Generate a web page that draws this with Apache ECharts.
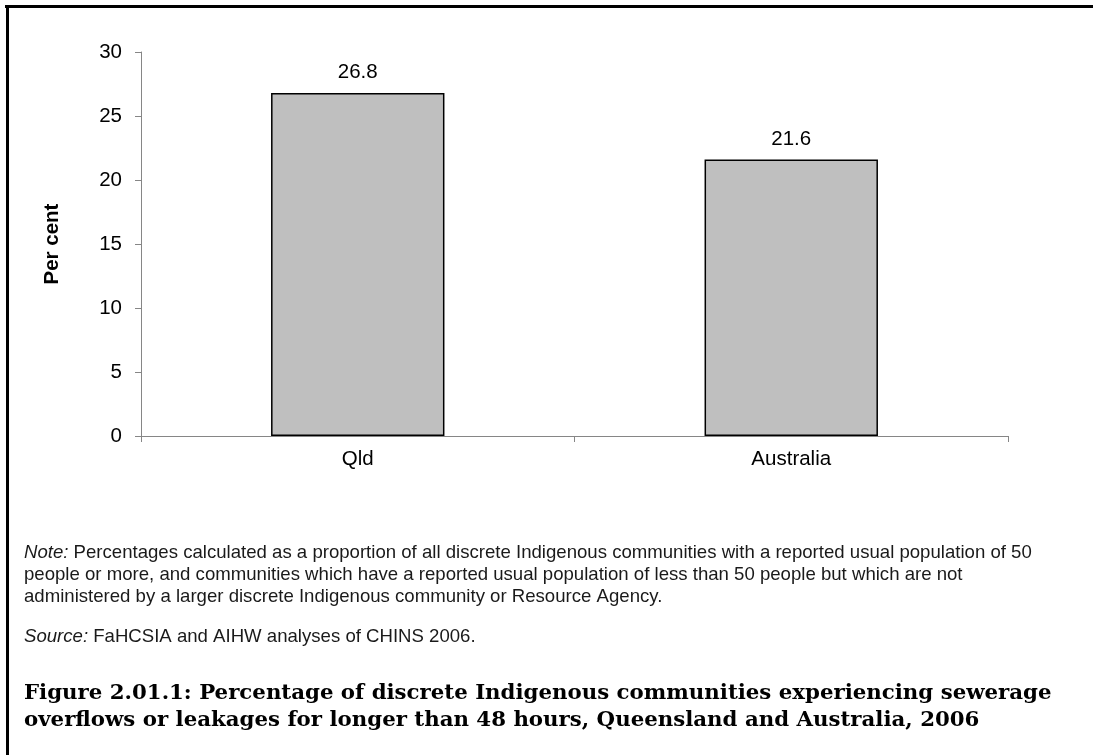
<!DOCTYPE html>
<html>
<head>
<meta charset="utf-8">
<script src="https://cdn.jsdelivr.net/npm/echarts@6/dist/echarts.min.js"></script>
<style>
html,body{margin:0;padding:0;background:#fff;}
#chart{width:1093px;height:755px;}
</style>
</head>
<body>
<div id="chart"></div>
<script>
var categories = ['Qld', 'Australia'];
var values = [26.8, 21.6];
var yTicks = [0, 5, 10, 15, 20, 25, 30];
var yAxisTitle = 'Per cent';
var noteLines = [
  'Percentages calculated as a proportion of all discrete Indigenous communities with a reported usual population of 50',
  'people or more, and communities which have a reported usual population of less than 50 people but which are not',
  'administered by a larger discrete Indigenous community or Resource Agency.'
];
var sourceText = 'FaHCSIA and AIHW analyses of CHINS 2006.';
var captionLines = [
  'Figure 2.01.1: Percentage of discrete Indigenous communities experiencing sewerage',
  'overflows or leakages for longer than 48 hours, Queensland and Australia, 2006'
];

var chart = echarts.init(document.getElementById('chart'));
var sans = '"Liberation Sans", Arial, sans-serif';
var serif = '"DejaVu Serif", serif';

var option = {
  animation: false,
  backgroundColor: '#ffffff',
  grid: { left: 141, right: 85, top: 52, height: 384 },
  xAxis: {
    type: 'category',
    data: categories,
    axisLine: { lineStyle: { color: '#868686', width: 1 } },
    axisTick: { show: true, length: 6, lineStyle: { color: '#868686' } },
    axisLabel: { color: '#000', fontFamily: sans, fontSize: 20.5, margin: 13 }
  },
  yAxis: {
    type: 'value',
    min: yTicks[0],
    max: yTicks[yTicks.length - 1],
    interval: 5,
    name: yAxisTitle,
    nameLocation: 'middle',
    nameGap: 78,
    nameTextStyle: { color: '#000', fontFamily: sans, fontSize: 20.5, fontWeight: 'bold' },
    axisLine: { show: true, lineStyle: { color: '#868686', width: 1 } },
    axisTick: { show: true, length: 6, lineStyle: { color: '#868686' } },
    axisLabel: { color: '#000', fontFamily: sans, fontSize: 20.5, margin: 19 },
    splitLine: { show: false }
  },
  series: [{
    type: 'bar',
    data: values,
    barWidth: '40%',
    itemStyle: { color: '#bfbfbf', borderColor: '#000', borderWidth: 1.5 },
    label: {
      show: true, position: 'top', distance: 10,
      color: '#000', fontFamily: sans, fontSize: 20.5,
      formatter: function (p) { return p.value.toFixed(1); }
    }
  }],
  graphic: [
    { type: 'line', shape: { x1: 5, y1: 6.5, x2: 1093, y2: 6.5 }, style: { stroke: '#000', lineWidth: 3 } },
    { type: 'line', shape: { x1: 7.5, y1: 5, x2: 7.5, y2: 755 }, style: { stroke: '#000', lineWidth: 3 } },
    {
      type: 'text', left: 24, top: 542,
      style: {
        text: '{i|Note:} ' + noteLines[0] + '\n' + noteLines[1] + '\n' + noteLines[2],
        font: '18.6px ' + sans, fill: '#1a1a1a', lineHeight: 22,
        rich: { i: { fontStyle: 'italic', fontSize: 18.6, fontFamily: sans, fill: '#1a1a1a', lineHeight: 22 } }
      }
    },
    {
      type: 'text', left: 24, top: 626,
      style: {
        text: '{i|Source:} ' + sourceText,
        font: '18.6px ' + sans, fill: '#1a1a1a', lineHeight: 22,
        rich: { i: { fontStyle: 'italic', fontSize: 18.6, fontFamily: sans, fill: '#1a1a1a', lineHeight: 22 } }
      }
    },
    {
      type: 'text', left: 24, top: 680,
      style: {
        text: captionLines.join('\n'),
        font: 'bold 21.3px ' + serif, fill: '#000', lineHeight: 27
      }
    }
  ]
};
chart.setOption(option);
</script>
</body>
</html>
